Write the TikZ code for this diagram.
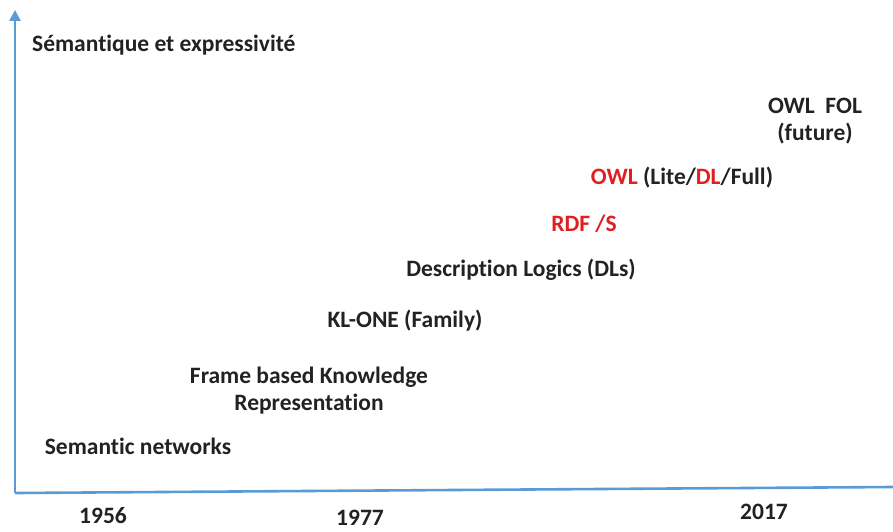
\documentclass[tikz,border=0pt]{standalone}
\usepackage{fontspec}
\setmainfont{Carlito}[Ligatures=NoCommon]
\usetikzlibrary{arrows.meta}
\definecolor{axisblue}{HTML}{5B9BD5}
\definecolor{owlred}{HTML}{E02020}
\definecolor{txt}{HTML}{222222}
\begin{document}
\begin{tikzpicture}[x=1pt,y=1pt,
  lbl/.style={font=\bfseries\fontsize{23.5}{27}\selectfont, text=txt, inner sep=0pt, align=center},
  axis/.style={draw=axisblue, line width=2.6pt}]
\useasboundingbox (0,0) rectangle (893,531);
\coordinate (top) at (15,521);
\coordinate (o) at (15,38);
\coordinate (right) at (893,44);
\draw[axis, -{Triangle[width=11pt,length=11pt]}] (o) -- (top);
\draw[axis] (o) -- (right);
\node[lbl, anchor=west] (yl) at (32,486) {Sémantique et expressivité};
\node[lbl] (fol) at (815,410) {OWL\ \ FOL\\(future)};
\node[lbl] (owl) at (682,353) {\textcolor{owlred}{OWL} (Lite/\textcolor{owlred}{DL}/Full)};
\node[lbl, text=owlred] (rdf) at (584,307) {RDF /S};
\node[lbl] (dl) at (521,261) {Description Logics (DLs)};
\node[lbl] (kl) at (405,210) {KL-ONE (Family)};
\node[lbl] (frame) at (309,140) {Frame based Knowledge\\Representation};
\node[lbl] (sn) at (138,85) {Semantic networks};
\node[lbl] (y1) at (103,15) {1956};
\node[lbl] (y2) at (360,13) {1977};
\node[lbl] (y3) at (764,19) {2017};
\end{tikzpicture}
\end{document}
